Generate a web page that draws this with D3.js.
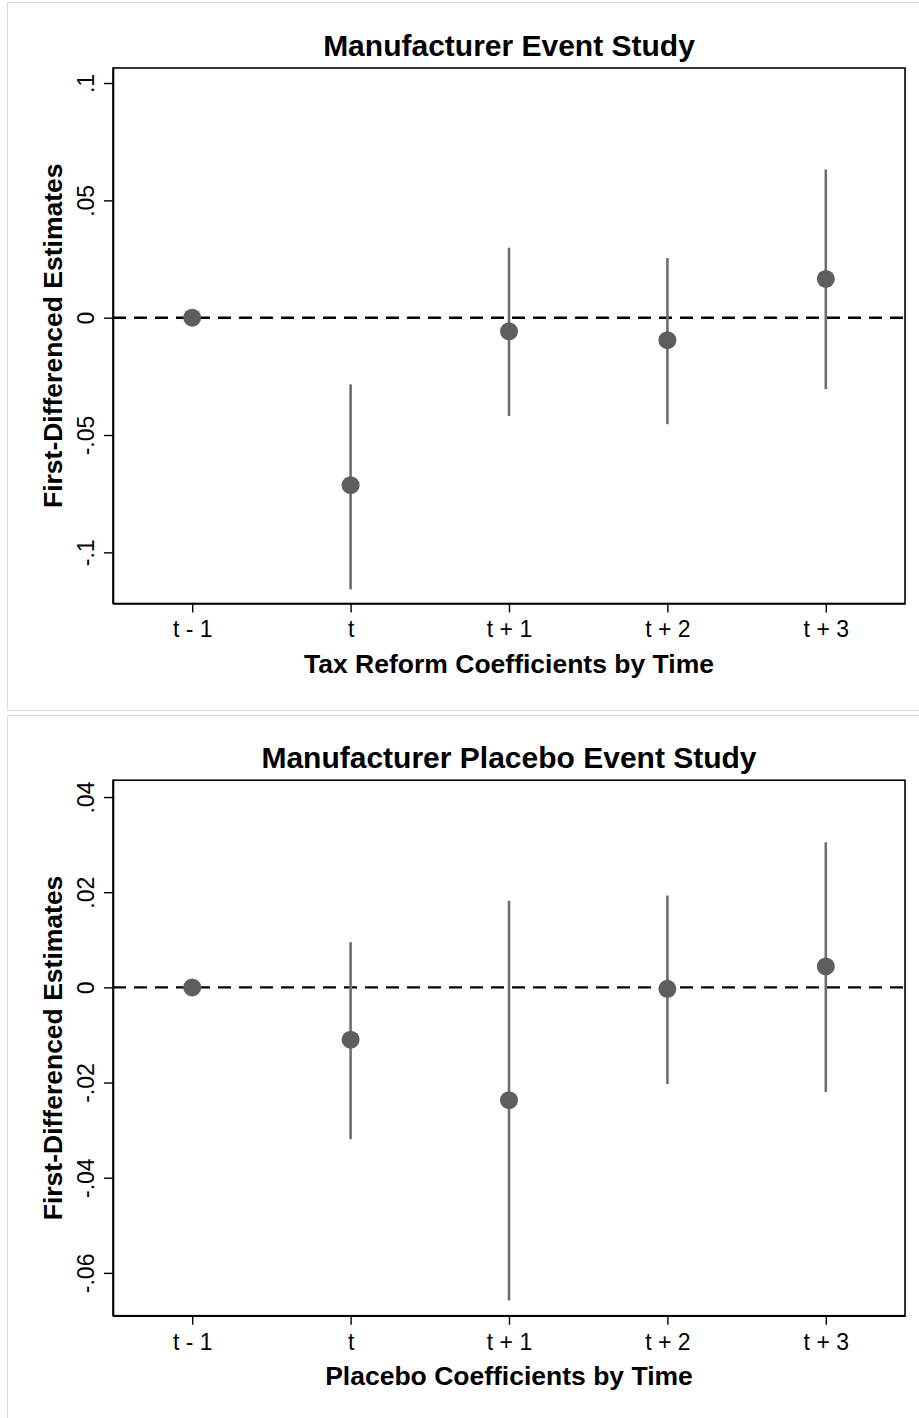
<!DOCTYPE html>
<html>
<head>
<meta charset="utf-8">
<script src="https://cdn.jsdelivr.net/npm/d3@7"></script>
<style>
  body { margin: 0; background: #fff; }
  svg { display: block; font-family: "Liberation Sans", Arial, Helvetica, sans-serif; }
</style>
</head>
<body>
<div id="chart"></div>
<script>
// x categories shared by both panels
const periods = ['t - 1', 't', 't + 1', 't + 2', 't + 3'];

// main event study (point estimate, lower / upper CI)
const mainEst = [0, -0.0714, -0.0058, -0.0096, 0.0165];
const mainLo = [0, -0.1158, -0.0419, -0.0454, -0.0304];
const mainHi = [0, -0.0284, 0.0298, 0.0254, 0.0632];
const mainTicks = [0.1, 0.05, 0, -0.05, -0.1];
const mainTickLabels = ['.1', '.05', '0', '-.05', '-.1'];

// placebo event study
const placeboEst = [0, -0.011, -0.0237, -0.0003, 0.0044];
const placeboLo = [0, -0.0319, -0.0658, -0.0203, -0.022];
const placeboHi = [0, 0.0095, 0.0182, 0.0193, 0.0305];
const placeboTicks = [0.04, 0.02, 0, -0.02, -0.04, -0.06];
const placeboTickLabels = ['.04', '.02', '0', '-.02', '-.04', '-.06'];

const W = 919;
const H = 1418;

const svg = d3.select('#chart').append('svg').attr('width', W).attr('height', H);

// light grey frames round each graph
svg.append('rect').attr('x', 7.5).attr('y', 2.5).attr('width', 925).attr('height', 708)
  .attr('fill', 'none').attr('stroke', '#dcdcdc');
svg.append('rect').attr('x', 7.5).attr('y', 715.5).attr('width', 925).attr('height', 720)
  .attr('fill', 'none').attr('stroke', '#dcdcdc');

function drawPanel(cfg) {
  const left = 113, right = 905;
  const top = cfg.top, bottom = cfg.top + 535.5;

  const x = d3.scalePoint().domain(periods).range([left, right]).padding(0.5);
  const y = d3.scaleLinear().domain(cfg.domain).range([bottom, top]);

  const rows = periods.map((p, i) => ({ p, est: cfg.est[i], lo: cfg.lo[i], hi: cfg.hi[i] }));

  const g = svg.append('g');

  // plot region outline
  g.append('rect')
    .attr('x', left).attr('y', top)
    .attr('width', right - left).attr('height', bottom - top)
    .attr('fill', 'none').attr('stroke', '#000').attr('stroke-width', 1.6);

  // zero reference line
  g.append('line')
    .attr('x1', left).attr('x2', right)
    .attr('y1', y(0)).attr('y2', y(0))
    .attr('stroke', '#000').attr('stroke-width', 2.4)
    .attr('stroke-dasharray', '13,8');

  // confidence intervals
  g.selectAll('.ci')
    .data(rows.filter(d => d.lo !== d.hi))
    .enter()
    .append('line')
    .attr('class', 'ci')
    .attr('x1', d => x(d.p)).attr('x2', d => x(d.p))
    .attr('y1', d => y(d.lo)).attr('y2', d => y(d.hi))
    .attr('stroke', '#6e6e6e').attr('stroke-width', 2.6);

  // point estimates
  g.selectAll('.pt')
    .data(rows)
    .enter()
    .append('circle')
    .attr('class', 'pt')
    .attr('cx', d => x(d.p)).attr('cy', d => y(d.est))
    .attr('r', 9)
    .attr('fill', '#5e5e5e');

  // y axis, labels turned on their side as in Stata
  const yAxis = g.append('g')
    .attr('transform', `translate(${left},0)`)
    .call(d3.axisLeft(y).tickValues(cfg.ticks)
      .tickFormat((d, i) => cfg.tickLabels[i]).tickSize(9).tickSizeOuter(0));
  yAxis.select('.domain').attr('stroke-width', 1.6);
  yAxis.selectAll('.tick line').attr('stroke-width', 1.4);
  yAxis.selectAll('.tick text')
    .attr('x', null).attr('dy', null)
    .attr('transform', 'translate(-19,0) rotate(-90)')
    .attr('text-anchor', 'middle')
    .attr('font-size', 23)
    .attr('fill', '#000');

  // x axis
  const xAxis = g.append('g')
    .attr('transform', `translate(0,${bottom})`)
    .call(d3.axisBottom(x).tickSize(9).tickPadding(8.5).tickSizeOuter(0));
  xAxis.select('.domain').attr('stroke-width', 1.6);
  xAxis.selectAll('.tick line').attr('stroke-width', 1.4);
  xAxis.selectAll('.tick text').attr('font-size', 23).attr('fill', '#000');

  // titles
  g.append('text')
    .attr('x', (left + right) / 2).attr('y', top - 12)
    .attr('text-anchor', 'middle')
    .attr('font-size', 30).attr('font-weight', 'bold')
    .text(cfg.title);

  g.append('text')
    .attr('x', (left + right) / 2).attr('y', bottom + 69)
    .attr('text-anchor', 'middle')
    .attr('font-size', 26.5).attr('font-weight', 'bold')
    .text(cfg.xTitle);

  g.append('text')
    .attr('transform', `translate(${left - 51},${(top + bottom) / 2}) rotate(-90)`)
    .attr('text-anchor', 'middle')
    .attr('font-size', 26.5).attr('font-weight', 'bold')
    .text('First-Differenced Estimates');
}

drawPanel({
  top: 68,
  domain: [-0.1218, 0.1064],
  est: mainEst, lo: mainLo, hi: mainHi,
  ticks: mainTicks, tickLabels: mainTickLabels,
  title: 'Manufacturer Event Study',
  xTitle: 'Tax Reform Coefficients by Time'
});

drawPanel({
  top: 780.2,
  domain: [-0.069, 0.04354],
  est: placeboEst, lo: placeboLo, hi: placeboHi,
  ticks: placeboTicks, tickLabels: placeboTickLabels,
  title: 'Manufacturer Placebo Event Study',
  xTitle: 'Placebo Coefficients by Time'
});
</script>
</body>
</html>
